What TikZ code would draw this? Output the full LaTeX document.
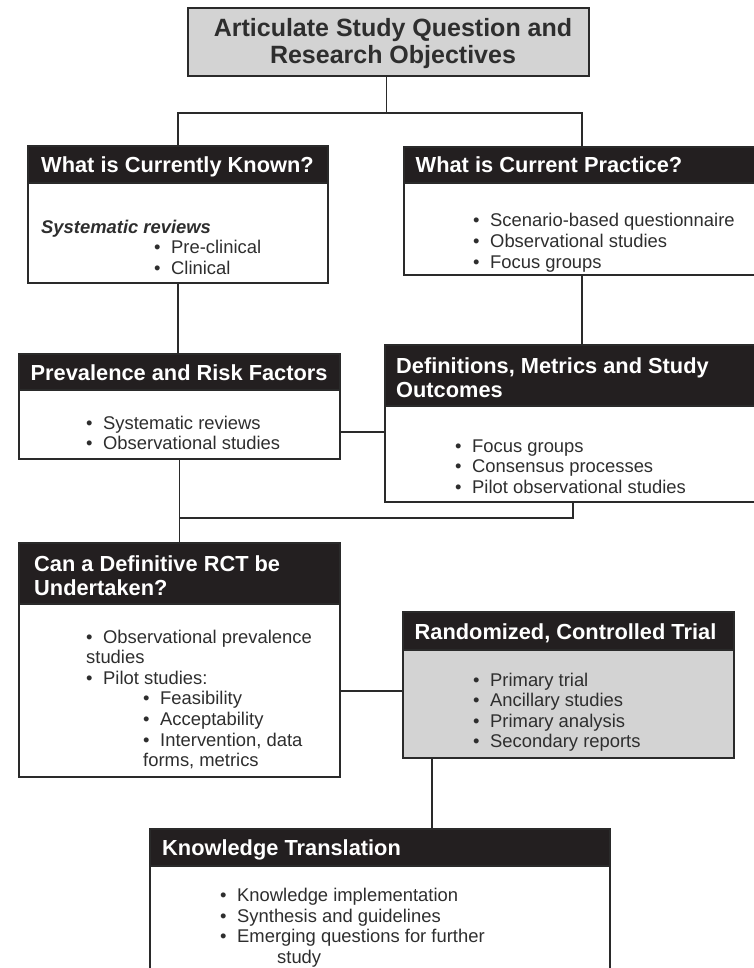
\documentclass[tikz,border=0pt]{standalone}
\usepackage{fontspec}
\setmainfont{Liberation Sans}
\usetikzlibrary{calc}
\definecolor{hdr}{HTML}{231F20}
\definecolor{ink}{HTML}{2E2E2E}
\definecolor{lgray}{HTML}{D3D3D3}
\definecolor{edge}{HTML}{2A2A2A}
\newcommand\bul{\makebox[17pt][l]{•}}
\begin{document}
\begin{tikzpicture}[x=1pt,y=-1pt,
  box/.style={draw=edge, line width=1.2pt, rectangle, anchor=north west, inner sep=0pt, outer sep=0pt},
  hdrbox/.style={box, fill=hdr},
  htxt/.style={anchor=base west, inner sep=0pt, text=white, font=\fontsize{21.8}{24}\selectfont\bfseries, align=left},
  btxt/.style={anchor=base west, inner sep=0pt, text=ink, font=\fontsize{18.4}{20.6}\selectfont, align=left},
  conn/.style={draw=edge, line width=1.2pt}]
\useasboundingbox[fill=white] (0,0) rectangle (753,968);
% note: multi-line text nodes are placed by the baseline of their LAST line

% top box
\node[box, fill=lgray, minimum width=401pt, minimum height=68pt] (top) at (188,8) {};
\node[anchor=base, inner sep=0pt, text=ink, align=center, font=\fontsize{25}{27}\selectfont\bfseries] (toptxt) at (393,64) {Articulate Study Question and\\Research Objectives};

% What is currently known
\node[box, minimum width=300pt, minimum height=137pt] (known) at (28,146) {};
\node[hdrbox, minimum width=300pt, minimum height=37pt] (knownh) at (28,146) {};
\node[htxt] (knownt) at (41,172.5) {What is Currently Known?};
\node[btxt] (knownb) at (41,274.2) {\textbf{\textit{Systematic reviews}}\\\hspace*{113pt}\bul Pre-clinical\\\hspace*{113pt}\bul Clinical};

% What is current practice
\node[box, minimum width=351pt, minimum height=128pt] (practice) at (404,147) {};
\node[hdrbox, minimum width=351pt, minimum height=36pt] (practiceh) at (404,147) {};
\node[htxt] (practicet) at (415.5,172.5) {What is Current Practice?};
\node[btxt] (practiceb) at (473,268) {\bul Scenario-based questionnaire\\\bul Observational studies\\\bul Focus groups};

% Prevalence and risk factors
\node[box, minimum width=321pt, minimum height=105pt] (prev) at (19,354) {};
\node[hdrbox, minimum width=321pt, minimum height=36pt] (prevh) at (19,354) {};
\node[htxt] (prevt) at (30.5,380) {Prevalence and Risk Factors};
\node[btxt] (prevb) at (86,449.6) {\bul Systematic reviews\\\bul Observational studies};

% Definitions
\node[box, minimum width=370pt, minimum height=157pt] (defs) at (385,345) {};
\node[hdrbox, minimum width=370pt, minimum height=61pt] (defsh) at (385,345) {};
\node[htxt] (defst) at (396,397) {Definitions, Metrics and Study\\Outcomes};
\node[btxt] (defsb) at (455,493.2) {\bul Focus groups\\\bul Consensus processes\\\bul Pilot observational studies};

% Can a definitive RCT be undertaken
\node[box, minimum width=321pt, minimum height=234pt] (rctq) at (19,543) {};
\node[hdrbox, minimum width=321pt, minimum height=61pt] (rctqh) at (19,543) {};
\node[htxt] (rctqt) at (34,595.5) {Can a Definitive RCT be\\Undertaken?};
\node[btxt] (rctqb) at (86,766.6) {\bul Observational prevalence\\studies\\\bul Pilot studies:\\\hspace*{57pt}\bul Feasibility\\\hspace*{57pt}\bul Acceptability\\\hspace*{57pt}\bul Intervention, data\\\hspace*{57pt}forms, metrics};

% Randomized controlled trial
\node[box, fill=lgray, line width=2pt, minimum width=331pt, minimum height=146pt] (rct) at (403,612) {};
\node[hdrbox, line width=2pt, minimum width=331pt, minimum height=38pt] (rcth) at (403,612) {};
\node[htxt] (rctt) at (414.5,639) {Randomized, Controlled Trial};
\node[btxt] (rctb) at (473,747.8) {\bul Primary trial\\\bul Ancillary studies\\\bul Primary analysis\\\bul Secondary reports};

% Knowledge translation (open at the bottom)
\node[hdrbox, minimum width=460pt, minimum height=37pt] (kt) at (150,829) {};
\draw[conn] (kt.south west) -- ++(0,150);
\draw[conn] (kt.south east) -- ++(0,150);
\node[htxt] (ktt) at (162,855) {Knowledge Translation};
\node[btxt] (ktb) at (220,963.5) {\bul Knowledge implementation\\\bul Synthesis and guidelines\\\bul Emerging questions for further\\\hspace*{57pt}study};

% connectors
\draw[conn] ([xshift=-2pt]top.south) -- ++(0,37) coordinate (j1);
\draw[conn] (known.north) |- (j1) -| ([xshift=2.5pt]practice.north);
\draw[conn] (known.south) -- (known.south |- prev.north);
\draw[conn] ([xshift=2.5pt]practice.south) -- ([xshift=2.5pt]practice.south |- defs.north);
\draw[conn] ([yshift=-25.5pt]prev.east) -- ([yshift=-25.5pt]prev.east -| defs.west);
\draw[conn] (prev.south) -- (rctq.north);
\path (prev.south) ++(0,59) coordinate (j2);
\draw[conn] ([xshift=3pt]defs.south) |- (j2);
\draw[conn, line width=2pt] ([yshift=-6pt]rct.west) -- ([yshift=-6pt]rct.west -| rctq.east);
\draw[conn] ([xshift=29pt]rct.south west) -- ([xshift=29pt]rct.south west |- kt.north);
\end{tikzpicture}
\end{document}
